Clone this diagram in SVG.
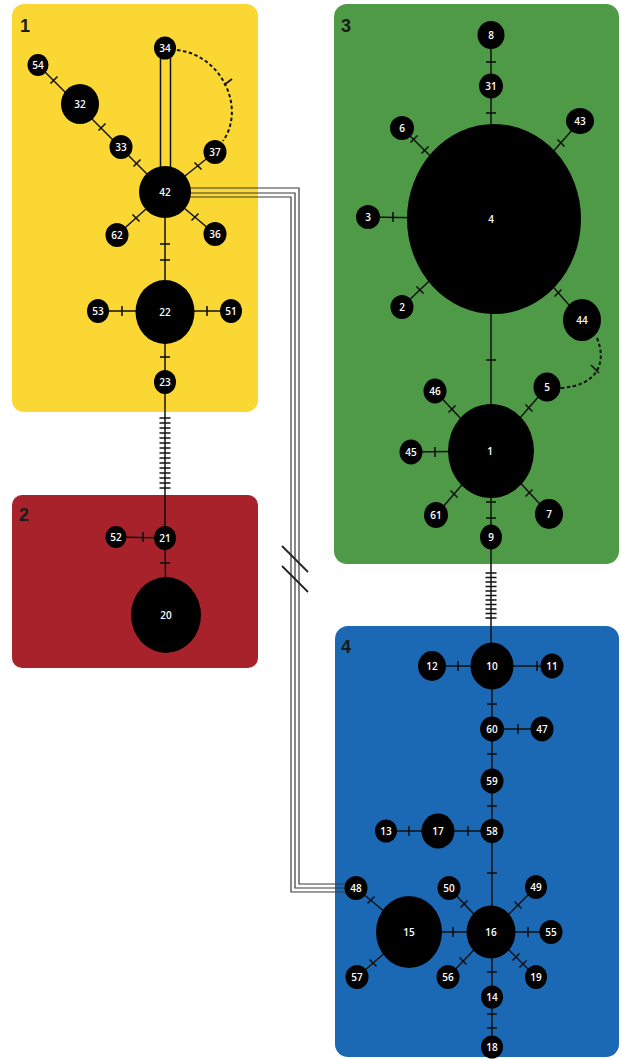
<svg xmlns="http://www.w3.org/2000/svg" width="621" height="1059" viewBox="0 0 621 1059">
  <style>
    .edge { stroke: #111; stroke-width: 1.5; fill: none; }
    .tick { stroke: #111; stroke-width: 1.6; fill: none; }
    .dash { stroke: #111; stroke-width: 2; fill: none; stroke-dasharray: 3.5 2.5; }
    .tri { stroke: #3a3a3a; stroke-width: 1.2; fill: none; }
    .brk { stroke: #222; stroke-width: 1.8; }
    .node { fill: #000; }
    .lbl { fill: #fff; font-family: "Open Sans", "Liberation Sans", sans-serif; font-size: 10px; font-weight: 600; text-anchor: middle; }
    .grp { fill: #1a1a1a; font-family: "Liberation Sans", Arial, sans-serif; font-size: 18px; font-weight: bold; }
  </style>

  <!-- group panels -->
  <g id="panels">
    <rect x="12" y="4" width="246" height="408" rx="12" fill="#FAD733"/>
    <rect x="12" y="495" width="246" height="173" rx="10" fill="#A8222B"/>
    <rect x="334" y="4" width="285" height="560" rx="13" fill="#4F9A47"/>
    <rect x="335" y="626" width="284" height="431" rx="13" fill="#1B69B4"/>
    <text class="grp" x="20" y="32">1</text>
    <text class="grp" x="19" y="521">2</text>
    <text class="grp" x="341" y="32">3</text>
    <text class="grp" x="341" y="653">4</text>
  </g>

  <g id="connectors">
    <!-- long triple link between 42 and 48 -->
    <path class="tri" d="M185,188 H299 V884 H350"/>
    <path class="tri" d="M185,193 H295 V888 H350"/>
    <path class="tri" d="M185,197 H291 V892 H350"/>
    <line class="brk" x1="282" y1="546" x2="308" y2="572"/>
    <line class="brk" x1="282" y1="566" x2="308" y2="592"/>

    <!-- cluster 1 -->
    <line class="edge" x1="38" y1="65" x2="165" y2="192"/>
    <line class="edge" x1="165" y1="192" x2="215" y2="152"/>
    <line class="edge" x1="165" y1="192" x2="117" y2="235"/>
    <line class="edge" x1="165" y1="192" x2="215" y2="234"/>
    <line class="edge" x1="165" y1="192" x2="165" y2="538"/>
    <line class="edge" x1="98" y1="311" x2="231" y2="311"/>
    <line class="edge" x1="116" y1="537" x2="165" y2="538"/>
    <line class="edge" x1="165" y1="538" x2="166" y2="615"/>
    <line class="edge" x1="160.5" y1="50" x2="160.5" y2="180"/>
    <line class="edge" x1="170.5" y1="50" x2="170.5" y2="180"/>
    <path class="dash" d="M177,50 C222,55 246,108 223,141"/>
    <line class="tick" x1="224" y1="85" x2="232" y2="79"/>
    <line class="tick" x1="50.5" y1="83.5" x2="57.5" y2="76.5"/>
    <line class="tick" x1="98.5" y1="130.5" x2="105.5" y2="123.5"/>
    <line class="tick" x1="133.5" y1="166.5" x2="140.5" y2="159.5"/>
    <line class="tick" x1="194.5" y1="162.5" x2="201.5" y2="169.5"/>
    <line class="tick" x1="132.5" y1="214.5" x2="139.5" y2="221.5"/>
    <line class="tick" x1="191.5" y1="220.5" x2="198.5" y2="213.5"/>
    <line class="tick" x1="160" y1="244" x2="170" y2="244"/>
    <line class="tick" x1="160" y1="260" x2="170" y2="260"/>
    <line class="tick" x1="122" y1="306" x2="122" y2="316"/>
    <line class="tick" x1="207" y1="306" x2="207" y2="316"/>
    <line class="tick" x1="160" y1="357" x2="170" y2="357"/>
    <path class="tick" d="M159.5,418 h11 M159.5,423 h11 M159.5,428 h11 M159.5,433 h11 M159.5,438 h11 M159.5,443 h11 M159.5,448 h11 M159.5,453 h11 M159.5,458 h11 M159.5,463 h11 M159.5,468 h11 M159.5,473 h11 M159.5,478 h11 M159.5,483 h11 M159.5,488 h11"/>
    <line class="tick" x1="143" y1="532" x2="143" y2="542"/>
    <line class="tick" x1="160" y1="563" x2="170" y2="563"/>

    <!-- cluster 3 -->
    <line class="edge" x1="491" y1="35" x2="491" y2="666"/>
    <line class="edge" x1="402" y1="128" x2="494" y2="219"/>
    <line class="edge" x1="580" y1="121" x2="494" y2="219"/>
    <line class="edge" x1="368" y1="217" x2="494" y2="219"/>
    <line class="edge" x1="402" y1="307" x2="494" y2="219"/>
    <line class="edge" x1="582" y1="320" x2="494" y2="219"/>
    <line class="edge" x1="435" y1="391" x2="491" y2="451"/>
    <line class="edge" x1="547" y1="387" x2="491" y2="451"/>
    <line class="edge" x1="411" y1="452" x2="491" y2="451"/>
    <line class="edge" x1="436" y1="515" x2="491" y2="451"/>
    <line class="edge" x1="549" y1="514" x2="491" y2="451"/>
    <path class="dash" d="M597,338 C607,362 598,386 560,388"/>
    <line class="tick" x1="591" y1="365" x2="599" y2="373"/>
    <line class="tick" x1="486" y1="62" x2="496" y2="62"/>
    <line class="tick" x1="486" y1="113" x2="496" y2="113"/>
    <line class="tick" x1="410.5" y1="142.5" x2="417.5" y2="135.5"/>
    <line class="tick" x1="421.5" y1="153.5" x2="428.5" y2="146.5"/>
    <line class="tick" x1="557.5" y1="139.5" x2="564.5" y2="146.5"/>
    <line class="tick" x1="393" y1="212" x2="393" y2="222"/>
    <line class="tick" x1="416.5" y1="286.5" x2="423.5" y2="293.5"/>
    <line class="tick" x1="554.5" y1="296.5" x2="561.5" y2="289.5"/>
    <line class="tick" x1="486" y1="360" x2="496" y2="360"/>
    <line class="tick" x1="448.5" y1="412.5" x2="455.5" y2="405.5"/>
    <line class="tick" x1="525.5" y1="404.5" x2="532.5" y2="411.5"/>
    <line class="tick" x1="435" y1="447" x2="435" y2="457"/>
    <line class="tick" x1="450.5" y1="490.5" x2="457.5" y2="497.5"/>
    <line class="tick" x1="525.5" y1="496.5" x2="532.5" y2="489.5"/>
    <line class="tick" x1="486" y1="502" x2="496" y2="502"/>
    <line class="tick" x1="486" y1="518" x2="496" y2="518"/>
    <path class="tick" d="M485.5,573 h11 M485.5,577.5 h11 M485.5,582 h11 M485.5,586.5 h11 M485.5,591 h11 M485.5,595.5 h11 M485.5,600 h11 M485.5,604.5 h11 M485.5,609 h11 M485.5,613.5 h11 M485.5,618 h11"/>

    <!-- cluster 4 -->
    <line class="edge" x1="432" y1="666" x2="552" y2="666"/>
    <line class="edge" x1="492" y1="666" x2="492" y2="1047"/>
    <line class="edge" x1="492" y1="729" x2="542" y2="729"/>
    <line class="edge" x1="386" y1="831" x2="492" y2="831"/>
    <line class="edge" x1="356" y1="888" x2="409" y2="932"/>
    <line class="edge" x1="409" y1="932" x2="357" y2="977"/>
    <line class="edge" x1="409" y1="932" x2="551" y2="932"/>
    <line class="edge" x1="449" y1="888" x2="491" y2="932"/>
    <line class="edge" x1="536" y1="887" x2="491" y2="932"/>
    <line class="edge" x1="448" y1="977" x2="491" y2="932"/>
    <line class="edge" x1="536" y1="977" x2="491" y2="932"/>
    <line class="tick" x1="458" y1="661" x2="458" y2="671"/>
    <line class="tick" x1="537" y1="661" x2="537" y2="671"/>
    <line class="tick" x1="487" y1="704" x2="497" y2="704"/>
    <line class="tick" x1="518" y1="724" x2="518" y2="734"/>
    <line class="tick" x1="487" y1="754" x2="497" y2="754"/>
    <line class="tick" x1="487" y1="806" x2="497" y2="806"/>
    <line class="tick" x1="468" y1="826" x2="468" y2="836"/>
    <line class="tick" x1="409" y1="826" x2="409" y2="836"/>
    <line class="tick" x1="487" y1="873" x2="497" y2="873"/>
    <line class="tick" x1="367.5" y1="903.5" x2="374.5" y2="896.5"/>
    <line class="tick" x1="369.5" y1="959.5" x2="376.5" y2="966.5"/>
    <line class="tick" x1="453" y1="927" x2="453" y2="937"/>
    <line class="tick" x1="460.5" y1="907.5" x2="467.5" y2="900.5"/>
    <line class="tick" x1="514.5" y1="901.5" x2="521.5" y2="908.5"/>
    <line class="tick" x1="528" y1="927" x2="528" y2="937"/>
    <line class="tick" x1="459.5" y1="957.5" x2="466.5" y2="964.5"/>
    <line class="tick" x1="512.5" y1="960.5" x2="519.5" y2="953.5"/>
    <line class="tick" x1="519.5" y1="967.5" x2="526.5" y2="960.5"/>
    <line class="tick" x1="487" y1="972" x2="497" y2="972"/>
    <line class="tick" x1="487" y1="1014" x2="497" y2="1014"/>
    <line class="tick" x1="487" y1="1028" x2="497" y2="1028"/>
  </g>

  <!-- cluster 1 nodes -->
  <g id="n54"><ellipse class="node" cx="38" cy="65" rx="10.5" ry="11"/><text class="lbl" x="38" y="68.5">54</text></g>
  <g id="n32"><ellipse class="node" cx="80" cy="104" rx="19" ry="20"/><text class="lbl" x="80" y="107.5">32</text></g>
  <g id="n33"><ellipse class="node" cx="121" cy="147" rx="11.5" ry="12"/><text class="lbl" x="121" y="150.5">33</text></g>
  <g id="n34"><ellipse class="node" cx="165" cy="48" rx="11" ry="11.5"/><text class="lbl" x="165" y="51.5">34</text></g>
  <g id="n37"><ellipse class="node" cx="215" cy="152" rx="11.5" ry="12"/><text class="lbl" x="215" y="155.5">37</text></g>
  <g id="n42"><ellipse class="node" cx="165" cy="192" rx="26" ry="26"/><text class="lbl" x="165" y="195.5">42</text></g>
  <g id="n62"><ellipse class="node" cx="117" cy="235" rx="11.5" ry="12"/><text class="lbl" x="117" y="238.5">62</text></g>
  <g id="n36"><ellipse class="node" cx="215" cy="234" rx="11.5" ry="12"/><text class="lbl" x="215" y="237.5">36</text></g>
  <g id="n22"><ellipse class="node" cx="165" cy="312" rx="29.5" ry="32"/><text class="lbl" x="165" y="315.5">22</text></g>
  <g id="n53"><ellipse class="node" cx="98" cy="311" rx="11" ry="12"/><text class="lbl" x="98" y="314.5">53</text></g>
  <g id="n51"><ellipse class="node" cx="231" cy="311" rx="11" ry="12"/><text class="lbl" x="231" y="314.5">51</text></g>
  <g id="n23"><ellipse class="node" cx="165" cy="382" rx="11" ry="12"/><text class="lbl" x="165" y="385.5">23</text></g>

  <!-- cluster 2 nodes -->
  <g id="n21"><ellipse class="node" cx="165" cy="538" rx="11" ry="12"/><text class="lbl" x="165" y="541.5">21</text></g>
  <g id="n52"><ellipse class="node" cx="116" cy="537" rx="10.5" ry="11"/><text class="lbl" x="116" y="540.5">52</text></g>
  <g id="n20"><ellipse class="node" cx="166" cy="615" rx="35" ry="38"/><text class="lbl" x="166" y="618.5">20</text></g>

  <!-- cluster 3 nodes -->
  <g id="n8"><ellipse class="node" cx="491" cy="35" rx="13.5" ry="14"/><text class="lbl" x="491" y="38.5">8</text></g>
  <g id="n31"><ellipse class="node" cx="491" cy="86" rx="12" ry="12.5"/><text class="lbl" x="491" y="89.5">31</text></g>
  <g id="n43"><ellipse class="node" cx="580" cy="121" rx="14" ry="13"/><text class="lbl" x="580" y="124.5">43</text></g>
  <g id="n6"><ellipse class="node" cx="402" cy="128" rx="12" ry="12"/><text class="lbl" x="402" y="131.5">6</text></g>
  <g id="n4"><ellipse class="node" cx="494" cy="219" rx="87" ry="95"/><text class="lbl" x="491" y="222.5">4</text></g>
  <g id="n3"><ellipse class="node" cx="368" cy="217" rx="12" ry="12"/><text class="lbl" x="368" y="220.5">3</text></g>
  <g id="n2"><ellipse class="node" cx="402" cy="307" rx="11.5" ry="12"/><text class="lbl" x="402" y="310.5">2</text></g>
  <g id="n44"><ellipse class="node" cx="582" cy="320" rx="19" ry="21"/><text class="lbl" x="582" y="323.5">44</text></g>
  <g id="n5"><ellipse class="node" cx="547" cy="387" rx="13.5" ry="14.5"/><text class="lbl" x="547" y="390.5">5</text></g>
  <g id="n46"><ellipse class="node" cx="435" cy="391" rx="11.5" ry="12.5"/><text class="lbl" x="435" y="394.5">46</text></g>
  <g id="n1"><ellipse class="node" cx="491" cy="451" rx="43" ry="47"/><text class="lbl" x="490" y="454.5">1</text></g>
  <g id="n45"><ellipse class="node" cx="411" cy="452" rx="11.5" ry="12.5"/><text class="lbl" x="411" y="455.5">45</text></g>
  <g id="n61"><ellipse class="node" cx="436" cy="515" rx="12" ry="13"/><text class="lbl" x="436" y="518.5">61</text></g>
  <g id="n7"><ellipse class="node" cx="549" cy="514" rx="14" ry="15"/><text class="lbl" x="549" y="517.5">7</text></g>
  <g id="n9"><ellipse class="node" cx="491" cy="537" rx="11" ry="12.5"/><text class="lbl" x="491" y="540.5">9</text></g>

  <!-- cluster 4 nodes -->
  <g id="n10"><ellipse class="node" cx="492" cy="666" rx="21.5" ry="23.5"/><text class="lbl" x="492" y="669.5">10</text></g>
  <g id="n12"><ellipse class="node" cx="432" cy="666" rx="14" ry="15"/><text class="lbl" x="432" y="669.5">12</text></g>
  <g id="n11"><ellipse class="node" cx="552" cy="666" rx="11.5" ry="12.5"/><text class="lbl" x="552" y="669.5">11</text></g>
  <g id="n60"><ellipse class="node" cx="492" cy="729" rx="12" ry="12.5"/><text class="lbl" x="492" y="732.5">60</text></g>
  <g id="n47"><ellipse class="node" cx="542" cy="729" rx="11.5" ry="12.5"/><text class="lbl" x="542" y="732.5">47</text></g>
  <g id="n59"><ellipse class="node" cx="492" cy="781" rx="11.5" ry="12.5"/><text class="lbl" x="492" y="784.5">59</text></g>
  <g id="n58"><ellipse class="node" cx="492" cy="831" rx="11.5" ry="12"/><text class="lbl" x="492" y="834.5">58</text></g>
  <g id="n17"><ellipse class="node" cx="438" cy="831" rx="16.5" ry="17.5"/><text class="lbl" x="438" y="834.5">17</text></g>
  <g id="n13"><ellipse class="node" cx="386" cy="831" rx="11" ry="11.5"/><text class="lbl" x="386" y="834.5">13</text></g>
  <g id="n48"><ellipse class="node" cx="356" cy="888" rx="11.5" ry="12"/><text class="lbl" x="356" y="891.5">48</text></g>
  <g id="n50"><ellipse class="node" cx="449" cy="888" rx="11.5" ry="12"/><text class="lbl" x="449" y="891.5">50</text></g>
  <g id="n49"><ellipse class="node" cx="536" cy="887" rx="11" ry="12"/><text class="lbl" x="536" y="890.5">49</text></g>
  <g id="n15"><ellipse class="node" cx="409" cy="932" rx="33" ry="36"/><text class="lbl" x="409" y="935.5">15</text></g>
  <g id="n16"><ellipse class="node" cx="491" cy="932" rx="24.5" ry="26.5"/><text class="lbl" x="491" y="935.5">16</text></g>
  <g id="n55"><ellipse class="node" cx="551" cy="932" rx="11.5" ry="12"/><text class="lbl" x="551" y="935.5">55</text></g>
  <g id="n57"><ellipse class="node" cx="357" cy="977" rx="11.5" ry="12"/><text class="lbl" x="357" y="980.5">57</text></g>
  <g id="n56"><ellipse class="node" cx="448" cy="977" rx="11.5" ry="12"/><text class="lbl" x="448" y="980.5">56</text></g>
  <g id="n19"><ellipse class="node" cx="536" cy="977" rx="11" ry="12"/><text class="lbl" x="536" y="980.5">19</text></g>
  <g id="n14"><ellipse class="node" cx="492" cy="997" rx="11" ry="11.5"/><text class="lbl" x="492" y="1000.5">14</text></g>
  <g id="n18"><ellipse class="node" cx="492" cy="1047" rx="11" ry="11.5"/><text class="lbl" x="492" y="1050.5">18</text></g>
</svg>
